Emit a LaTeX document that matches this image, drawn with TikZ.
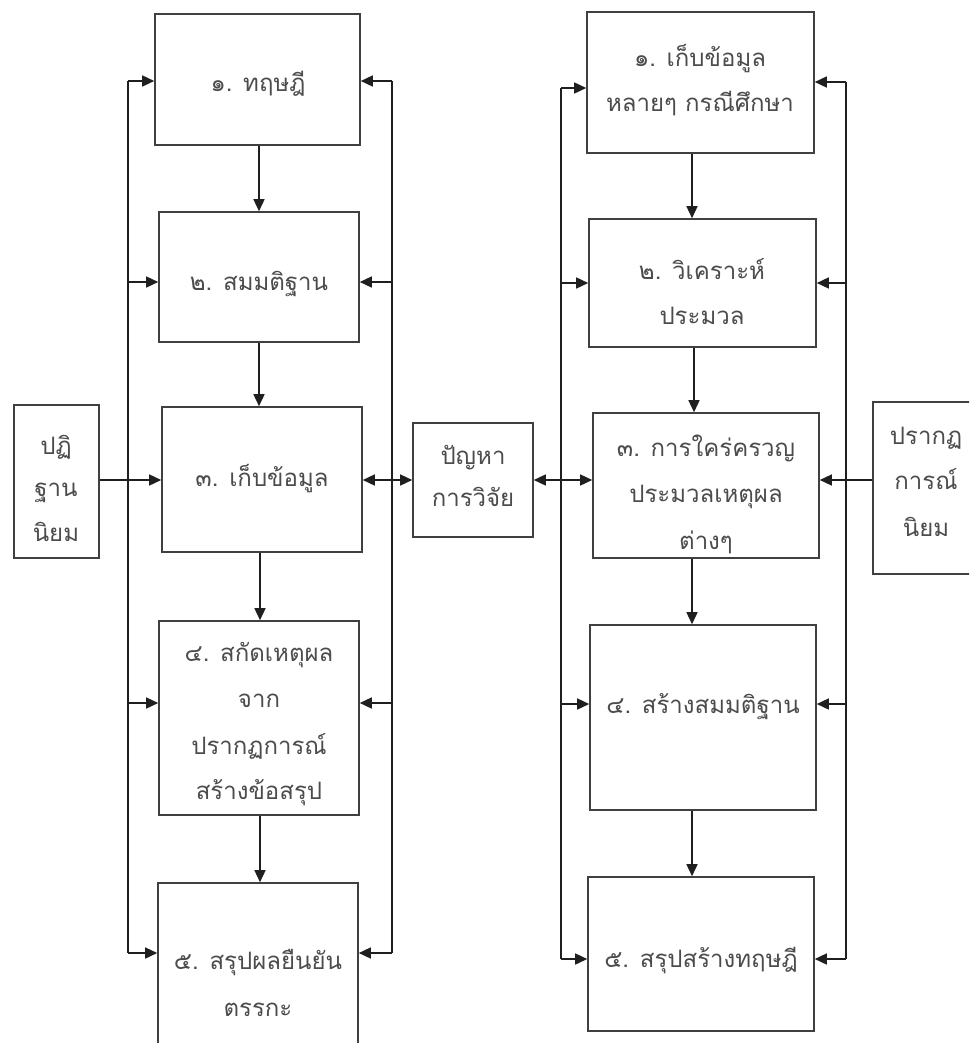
\documentclass[tikz,border=0pt]{standalone}
\usepackage{fontspec}
\newfontfamily\thaifont[Script=Thai]{Loma}
\usetikzlibrary{arrows.meta,fit}
\begin{document}
\begin{tikzpicture}[x=1pt,y=-1pt,
  box/.style={draw=black!75, line width=1.6pt, fill=white, inner sep=0pt},
  txt/.style={font=\thaifont\fontsize{24}{28}\selectfont, text=black!70, inner sep=0pt, anchor=base},
  ln/.style={draw=black!88, line width=1.5pt},
  arr/.style={ln, -{Triangle[length=12pt,width=11pt]}},
  darr/.style={ln, {Triangle[length=12pt,width=11pt]}-{Triangle[length=12pt,width=11pt]}},
]
\useasboundingbox (0,0) rectangle (969,1043);
\clip (0,0) rectangle (969,1043);
\fill[white] (0,0) rectangle (969,1043);

% ---- left column boxes
\node[box, fit={(155,14) (360,145)}] (L1) {};
\node[box, fit={(159,212) (359,342)}] (L2) {};
\node[box, fit={(162,407) (362,552)}] (L3) {};
\node[box, fit={(159,621) (359,815)}] (L4) {};
\node[box, fit={(158,883) (358,1060)}] (L5) {};
\node[box, fit={(14,405) (99,558)}] (PT) {};
% ---- middle
\node[box, fit={(413,423) (533,537)}] (PB) {};
% ---- right column boxes
\node[box, fit={(587,12) (814,153)}] (R1) {};
\node[box, fit={(589,219) (816,347)}] (R2) {};
\node[box, fit={(593,413) (819,558)}] (R3) {};
\node[box, fit={(590,625) (816,810)}] (R4) {};
\node[box, fit={(588,877) (814,1031)}] (R5) {};
\node[box, fit={(873,402) (1000,574)}] (PR) {};

% ---- texts
\node[txt] (tL1) at (258,92) {๑. ทฤษฎี};
\node[txt] (tL2) at (259,290) {๒. สมมติฐาน};
\node[txt] (tL3) at (262,486) {๓. เก็บข้อมูล};
\node[txt] (tL4a) at (259,661) {๔. สกัดเหตุผล};
\node[txt] (tL4b) at (259,707) {จาก};
\node[txt] (tL4c) at (259,754) {ปรากฏการณ์};
\node[txt] (tL4d) at (259,799) {สร้างข้อสรุป};
\node[txt] (tL5a) at (258,969) {๕. สรุปผลยืนยัน};
\node[txt] (tL5b) at (258,1016) {ตรรกะ};
\node[txt] (tPTa) at (56,454) {ปฏิ};
\node[txt] (tPTb) at (56,496) {ฐาน};
\node[txt] (tPTc) at (56,541) {นิยม};
\node[txt] (tPBa) at (473,464) {ปัญหา};
\node[txt] (tPBb) at (473,506) {การวิจัย};
\node[txt] (tR1a) at (700,67) {๑. เก็บข้อมูล};
\node[txt] (tR1b) at (700,112) {หลายๆ กรณีศึกษา};
\node[txt] (tR2a) at (702,279) {๒. วิเคราะห์};
\node[txt] (tR2b) at (702,324) {ประมวล};
\node[txt] (tR3a) at (706,456) {๓. การใคร่ครวญ};
\node[txt] (tR3b) at (706,502) {ประมวลเหตุผล};
\node[txt] (tR3c) at (706,549) {ต่างๆ};
\node[txt] (tR4) at (703,713) {๔. สร้างสมมติฐาน};
\node[txt] (tR5) at (701,967) {๕. สรุปสร้างทฤษฎี};
\node[txt] (tPRa) at (926,444) {ปรากฏ};
\node[txt] (tPRb) at (926,489) {การณ์};
\node[txt] (tPRc) at (926,536) {นิยม};

% ---- loop coordinates
\coordinate (la1) at (128,81);
\coordinate (la2) at (128,282);
\coordinate (la4) at (128,703);
\coordinate (la5) at (128,953);
\coordinate (lb1) at (392,81);
\coordinate (lb2) at (392,282);
\coordinate (lb4) at (392,703);
\coordinate (lb5) at (392,953);
\coordinate (ra1) at (561,88);
\coordinate (ra2) at (561,283);
\coordinate (ra4) at (561,704);
\coordinate (ra5) at (561,959);
\coordinate (rb1) at (846,82);
\coordinate (rb2) at (846,283);
\coordinate (rb4) at (846,704);
\coordinate (rb5) at (846,959);

% ---- vertical loop lines
\draw[ln] (la1) -- (la5);
\draw[ln] (lb1) -- (lb5);
\draw[ln] (ra1) -- (ra5);
\draw[ln] (rb1) -- (rb5);

% ---- branch arrows
\foreach \i/\b in {1/L1,2/L2,4/L4,5/L5}{
  \draw[arr] (la\i) -- (la\i -| \b.west);
  \draw[arr] (lb\i) -- (lb\i -| \b.east);
}
\foreach \i/\b in {1/R1,2/R2,4/R4,5/R5}{
  \draw[arr] (ra\i) -- (ra\i -| \b.west);
  \draw[arr] (rb\i) -- (rb\i -| \b.east);
}

% ---- horizontal middle links
\coordinate (mid) at (0,480);
\draw[arr] (PT.east |- mid) -- (L3.west |- mid);
\draw[darr] (L3.east |- mid) -- (PB.west |- mid);
\draw[darr] (PB.east |- mid) -- (R3.west |- mid);
\draw[arr] (PR.west |- mid) -- (R3.east |- mid);

% ---- vertical flow arrows
\draw[arr] (L1.south -| 259,0) -- (L2.north -| 259,0);
\draw[arr] (L2.south -| 259,0) -- (L3.north -| 259,0);
\draw[arr] (L3.south -| 260,0) -- (L4.north -| 260,0);
\draw[arr] (L4.south -| 260,0) -- (L5.north -| 260,0);
\draw[arr] (R1.south -| 692,0) -- (R2.north -| 692,0);
\draw[arr] (R2.south -| 694,0) -- (R3.north -| 694,0);
\draw[arr] (R3.south -| 692,0) -- (R4.north -| 692,0);
\draw[arr] (R4.south -| 692,0) -- (R5.north -| 692,0);
\end{tikzpicture}
\end{document}
